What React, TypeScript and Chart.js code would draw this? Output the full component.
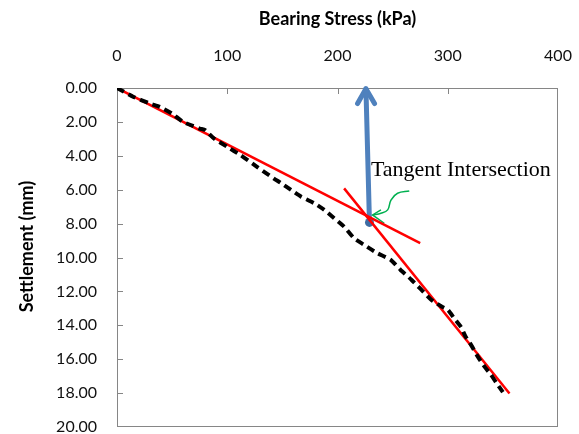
import React, { useEffect, useRef } from "react";
import { Chart, registerables } from "chart.js";

Chart.register(...registerables);

// Measured load-settlement curve (Bearing stress kPa, settlement mm)
const measuredStress = [0, 15, 30, 39, 50, 60, 75, 80, 88, 100, 112, 127, 142, 149, 158, 167, 179, 188, 197, 206, 215, 224, 236, 248, 257, 267, 276, 285, 294, 300, 306, 312, 316, 321, 327, 333, 339, 344, 350];
const measuredSettlement = [0, 0.53, 0.92, 1.12, 1.51, 2.0, 2.39, 2.49, 2.98, 3.47, 3.96, 4.65, 5.33, 5.62, 6.02, 6.41, 6.8, 7.19, 7.68, 8.18, 8.86, 9.25, 9.74, 10.13, 10.72, 11.31, 11.9, 12.49, 12.88, 13.08, 13.6, 14.1, 14.65, 15.14, 15.82, 16.41, 16.9, 17.39, 17.94];

// Tangent lines
const tangent1Stress = [0, 275];
const tangent1Settlement = [0, 9.15];
const tangent2Stress = [206, 356];
const tangent2Settlement = [5.92, 18.02];

// Blue arrow from intersection up to the stress axis
const arrowStress = [229, 225.8];
const arrowSettlement = [7.93, 0.05];
const arrowHeadStress = [218.2, 225.8, 233.6];
const arrowHeadSettlement = [0.92, 0.05, 0.92];

// Green pointer to the intersection
const pointerStress = [265.1, 254.5, 248.5, 245.5, 239.4, 231.8];
const pointerSettlement = [6.08, 6.21, 6.61, 7.19, 7.39, 7.49];
const pointerHeadStress = [239.4, 231.8, 242.4];
const pointerHeadSettlement = [7.19, 7.49, 7.98];

const labelText = "Tangent Intersection";
const labelStress = 230.3;
const labelSettlement = 4.84;

const xTitle = "Bearing Stress (kPa)";
const yTitle = "Settlement (mm)";
const xTickValues = [0, 100, 200, 300, 400];
const yTickValues = [0, 2, 4, 6, 8, 10, 12, 14, 16, 18, 20];

const toPts = (xs: number[], ys: number[]) => xs.map((x, i) => ({ x, y: ys[i] }));

const decorPlugin = {
  id: "decor",
  beforeDatasetsDraw(chart: any) {
    const { ctx, chartArea: a, scales } = chart;
    const x = scales.x;
    const y = scales.y;
    ctx.save();
    ctx.strokeStyle = "#868686";
    ctx.lineWidth = 1;
    ctx.strokeRect(a.left + 0.5, a.top + 0.5, a.right - a.left - 1, a.bottom - a.top - 1);
    ctx.beginPath();
    for (const v of xTickValues.slice(1, -1)) {
      const px = Math.round(x.getPixelForValue(v)) + 0.5;
      ctx.moveTo(px, a.top);
      ctx.lineTo(px, a.top + 6);
    }
    for (const v of yTickValues.slice(1, -1)) {
      const py = Math.round(y.getPixelForValue(v)) + 0.5;
      ctx.moveTo(a.left, py);
      ctx.lineTo(a.left + 6, py);
    }
    ctx.stroke();
    ctx.restore();
  },
  afterDatasetsDraw(chart: any) {
    const { ctx, chartArea: a, scales } = chart;
    const x = scales.x;
    const y = scales.y;
    ctx.save();
    ctx.fillStyle = "#000";
    ctx.font = '22px "Liberation Serif"';
    ctx.textAlign = "left";
    ctx.textBaseline = "middle";
    ctx.fillText(labelText, x.getPixelForValue(labelStress), y.getPixelForValue(labelSettlement));
    ctx.restore();

    ctx.save();
    ctx.fillStyle = "#000";
    ctx.font = "bold 18px Lato";
    ctx.textAlign = "center";
    ctx.textBaseline = "middle";
    ctx.translate(y.left + 27, (a.top + a.bottom) / 2 - 11);
    ctx.rotate(-Math.PI / 2);
    ctx.fillText(yTitle, 0, 0);
    ctx.restore();
  },
};

export default function App() {
  const ref = useRef<HTMLCanvasElement>(null);
  useEffect(() => {
    const chart = new Chart(ref.current!, {
      type: "scatter",
      data: {
        datasets: [
          {
            data: toPts(measuredStress, measuredSettlement),
            showLine: true,
            borderColor: "#000",
            borderWidth: 4,
            borderDash: [8, 5],
            pointRadius: 0,
            tension: 0.2,
          },
          {
            data: toPts(tangent1Stress, tangent1Settlement),
            showLine: true,
            borderColor: "#ff0000",
            borderWidth: 2.5,
            pointRadius: 0,
          },
          {
            data: toPts(tangent2Stress, tangent2Settlement),
            showLine: true,
            borderColor: "#ff0000",
            borderWidth: 2.5,
            pointRadius: 0,
          },
          {
            data: toPts(pointerStress, pointerSettlement),
            showLine: true,
            borderColor: "#00b050",
            borderWidth: 1.5,
            pointRadius: 0,
            tension: 0.4,
          },
          {
            data: toPts(pointerHeadStress, pointerHeadSettlement),
            showLine: true,
            borderColor: "#00b050",
            borderWidth: 1.5,
            pointRadius: 0,
          },
          {
            data: toPts(arrowStress, arrowSettlement),
            showLine: true,
            borderColor: "#4f81bd",
            borderWidth: 5,
            borderCapStyle: "round",
            pointRadius: [4.5, 0],
            pointBackgroundColor: "#3e6ca3",
            pointBorderWidth: 0,
            clip: false,
          },
          {
            data: toPts(arrowHeadStress, arrowHeadSettlement),
            showLine: true,
            borderColor: "#4f81bd",
            borderWidth: 5,
            borderCapStyle: "round",
            borderJoinStyle: "round",
            pointRadius: 0,
            clip: false,
          },
        ] as any,
      },
      options: {
        animation: false,
        responsive: false,
        devicePixelRatio: 1,
        layout: { padding: { left: 0, top: 0, right: 21, bottom: 7 } },
        plugins: {
          legend: { display: false },
          tooltip: { enabled: false },
        },
        scales: {
          x: {
            type: "linear",
            position: "top",
            min: 0,
            max: 400,
            grid: { display: false, drawTicks: false },
            border: { display: false },
            ticks: {
              stepSize: 100,
              padding: 23,
              color: "#111",
              font: { family: "Lato", size: 16 },
            },
            title: {
              display: true,
              text: xTitle,
              color: "#000",
              font: { family: "Lato", size: 18, weight: "bold" },
              padding: { top: 8, bottom: 0 },
            },
            afterFit: (s: any) => {
              s.height = 88;
              s.paddingLeft = 0;
              s.paddingRight = 0;
            },
          },
          y: {
            type: "linear",
            reverse: true,
            min: 0,
            max: 20,
            grid: { display: false, drawTicks: false },
            border: { display: false },
            ticks: {
              stepSize: 2,
              padding: 20,
              color: "#111",
              font: { family: "Lato", size: 16 },
              callback: (v: any) => Number(v).toFixed(2),
            },
            afterFit: (s: any) => {
              s.width = 117;
              s.paddingTop = 0;
              s.paddingBottom = 0;
            },
          },
        },
      } as any,
      plugins: [decorPlugin],
    });
    return () => chart.destroy();
  }, []);
  return (
    <div style={{ position: "absolute", left: 0, top: 0, width: 579, height: 434, background: "#fff" }}>
      <canvas ref={ref} width={579} height={434} style={{ display: "block" }} />
    </div>
  );
}
